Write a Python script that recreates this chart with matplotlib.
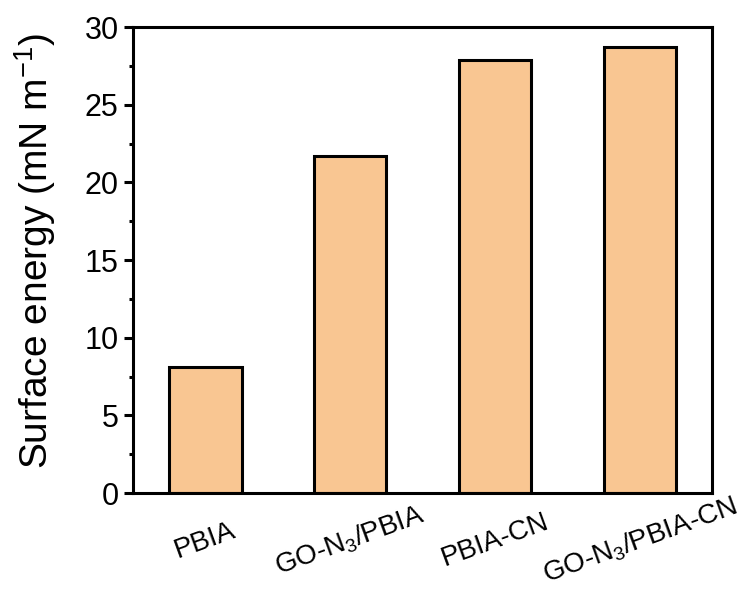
import matplotlib
matplotlib.use("Agg")
import matplotlib.pyplot as plt
from matplotlib.ticker import MultipleLocator

plt.rcParams['font.family'] = ['Liberation Sans', 'DejaVu Sans']
plt.rcParams['mathtext.fontset'] = 'custom'
plt.rcParams['mathtext.rm'] = 'Liberation Sans'
plt.rcParams['mathtext.it'] = 'Liberation Sans:italic'
plt.rcParams['mathtext.bf'] = 'Liberation Sans:bold'

categories = ["PBIA", "GO-N$_3$/PBIA", "PBIA-CN", "GO-N$_3$/PBIA-CN"]
surface_energy = [8.1, 21.7, 27.9, 28.7]

fig = plt.figure(figsize=(7.56, 5.95), dpi=100)
ax = fig.add_axes([0.176, 0.1714, 0.766, 0.783])

x = range(len(categories))
ax.bar(x, surface_energy, width=0.5, color="#F9C692", edgecolor="black", linewidth=2.2)

ax.set_xlim(-0.5, 3.5)
ax.set_ylim(0, 30)
ax.yaxis.set_major_locator(MultipleLocator(5))
ax.yaxis.set_minor_locator(MultipleLocator(2.5))
ax.set_xticks(list(x))
ax.set_xticklabels(categories, rotation=20, fontsize=20,
                   ha='center', va='center', rotation_mode='anchor')
ax.tick_params(axis='y', which='major', direction='out', length=6.5, width=2.2, labelsize=22, pad=4)
ax.tick_params(axis='y', which='minor', direction='out', length=3, width=2.2)
ax.tick_params(axis='x', which='major', length=0, pad=34)

for s in ax.spines.values():
    s.set_linewidth(2.2)

ax.set_ylabel("Surface energy (mN m$^{\\mathregular{-1}}$)", fontsize=28)
ax.yaxis.set_label_coords(-0.13, 0.52)

fig.savefig("out.png", dpi=100)
